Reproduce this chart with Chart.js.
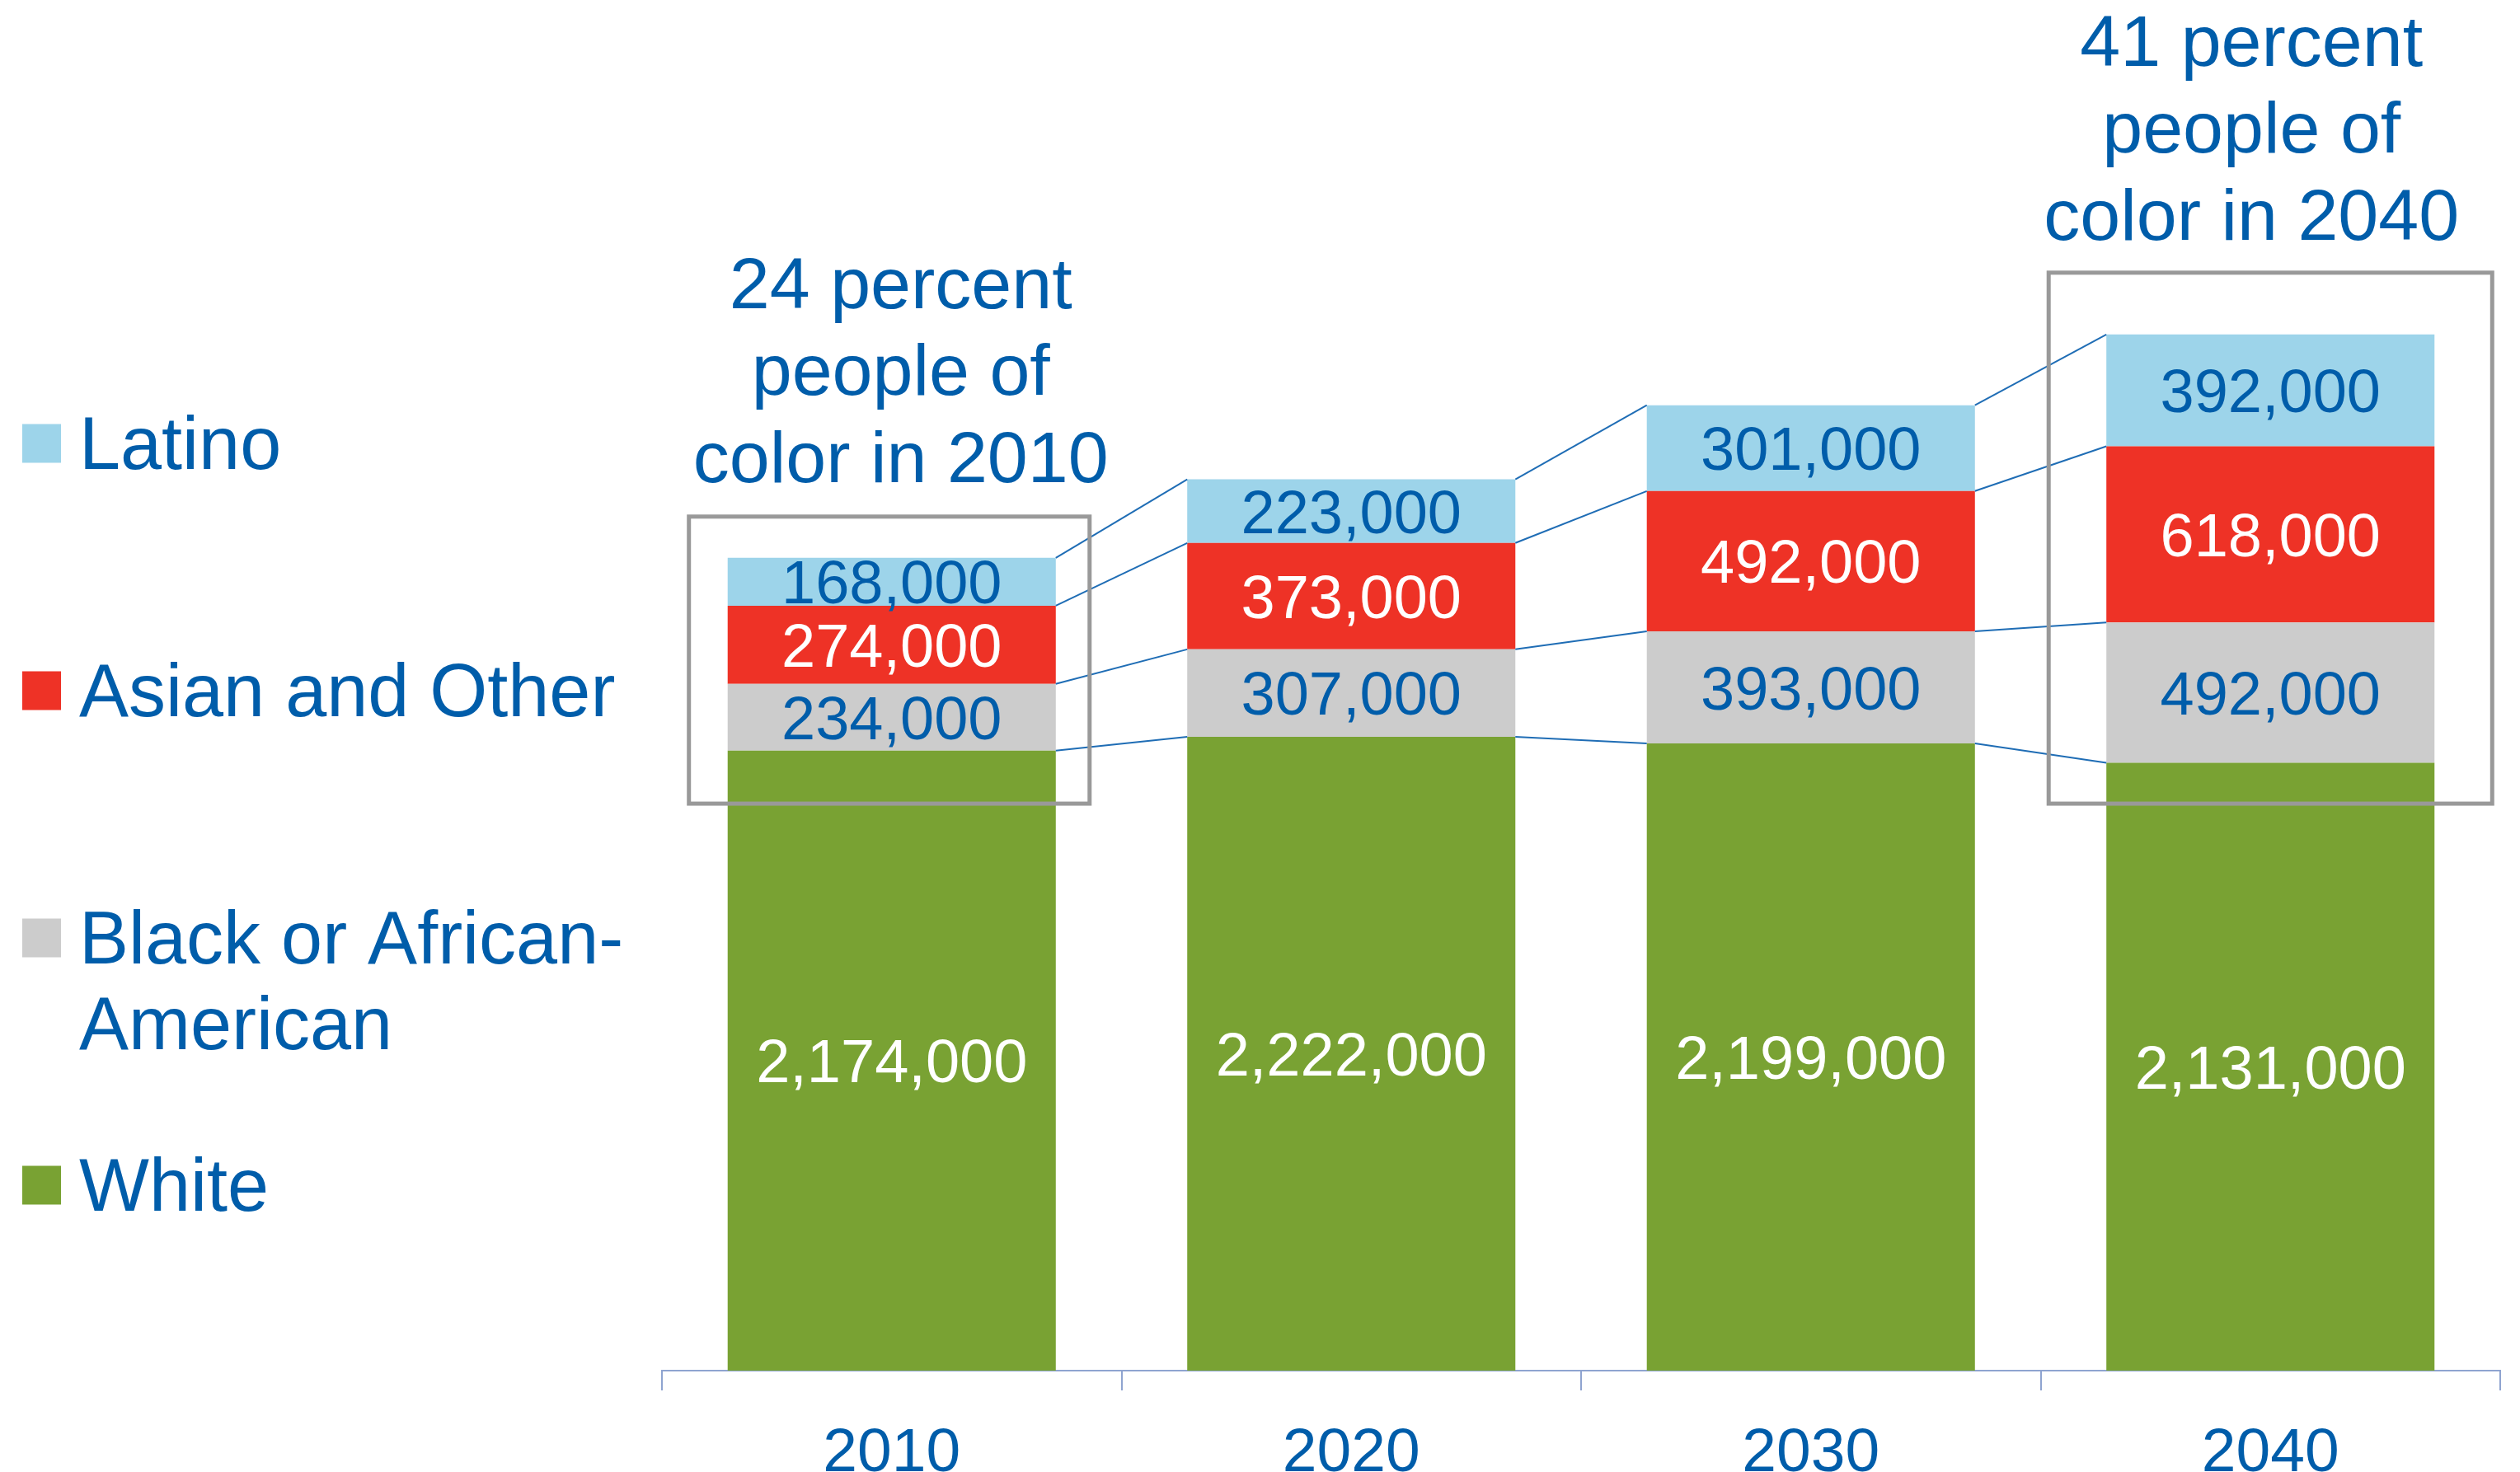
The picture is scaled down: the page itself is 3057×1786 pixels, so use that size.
<!DOCTYPE html>
<html>
<head>
<meta charset="utf-8">
<script src="https://cdn.jsdelivr.net/npm/chart.js@4/dist/chart.umd.min.js"></script>
<style>
  html, body { margin: 0; padding: 0; background: #ffffff; }
  #wrap { width: 3057px; height: 1786px; position: relative; }
  canvas { display: block; }
</style>
</head>
<body>
<div id="wrap"><canvas id="c" width="3057" height="1786"></canvas></div>
<script>
// ---------- data ----------
const categories = ['2010', '2020', '2030', '2040'];
const seriesNames = ['White', 'Black or African-American', 'Asian and Other', 'Latino'];
const whiteValues  = [2174000, 2222000, 2199000, 2131000];
const blackValues  = [234000, 307000, 393000, 492000];
const asianValues  = [274000, 373000, 492000, 618000];
const latinoValues = [168000, 223000, 301000, 392000];
const note2010Lines = ['24 percent', 'people of', 'color in 2010'];
const note2040Lines = ['41 percent', 'people of', 'color in 2040'];

// ---------- styles ----------
const FONT = '"Liberation Sans", Arial, Helvetica, sans-serif';
const BLUE = '#005DAA';
const seriesColors = ['#79A233', '#CCCCCC', '#EE3226', '#9DD4EA'];
const labelColors = ['#FFFFFF', BLUE, '#FFFFFF', BLUE];
const fmt = v => v.toLocaleString('en-US');
const LABEL_SIZE = 74;

const customDraw = {
  id: 'customDraw',
  afterDatasetsDraw(chart, args, opts) {
    const ctx = chart.ctx;
    const metas = chart.data.datasets.map((d, i) => chart.getDatasetMeta(i));
    const n = chart.data.labels.length;

    // connector lines between bars
    ctx.save();
    ctx.strokeStyle = '#1F6DB5';
    ctx.lineWidth = 2;
    for (let i = 0; i < n - 1; i++) {
      metas.forEach(m => {
        const a = m.data[i], b = m.data[i + 1];
        ctx.beginPath();
        ctx.moveTo(a.x + a.width / 2, a.y);
        ctx.lineTo(b.x - b.width / 2, b.y);
        ctx.stroke();
      });
    }
    ctx.restore();

    // value labels
    ctx.save();
    ctx.font = LABEL_SIZE + 'px ' + FONT;
    ctx.textAlign = 'center';
    ctx.textBaseline = 'alphabetic';
    metas.forEach((m, di) => {
      const ds = chart.data.datasets[di];
      m.data.forEach((el, i) => {
        const cy = (el.y + el.base) / 2;
        ctx.fillStyle = labelColors[di];
        ctx.fillText(fmt(ds.data[i]), el.x, cy + 0.358 * LABEL_SIZE);
      });
    });
    ctx.restore();

    // highlight boxes + notes
    const yScale = chart.scales.y;
    const topMeta = metas[metas.length - 1];
    opts.boxes.forEach(bx => {
      const el = topMeta.data[bx.index];
      const left = el.x - el.width / 2 - bx.padLeft;
      const right = el.x + el.width / 2 + bx.padRight;
      const top = el.y - bx.padTop;
      const bottom = yScale.getPixelForValue(bx.bottomValue);
      ctx.save();
      ctx.strokeStyle = '#999999';
      ctx.lineWidth = 5;
      ctx.strokeRect(left, top, right - left, bottom - top);
      ctx.fillStyle = BLUE;
      ctx.font = '88px ' + FONT;
      ctx.textAlign = 'center';
      ctx.textBaseline = 'alphabetic';
      const lines = bx.lines;
      lines.forEach((t, k) => {
        const baseline = top - bx.noteGap - (lines.length - 1 - k) * 105.5;
        ctx.fillText(t, el.x + bx.dx, baseline);
      });
      ctx.restore();
    });

    // legend (top to bottom: reverse stack order)
    ctx.save();
    ctx.font = '90px ' + FONT;
    ctx.textAlign = 'left';
    ctx.textBaseline = 'alphabetic';
    let baseline = opts.legend.firstBaseline;
    for (let di = chart.data.datasets.length - 1; di >= 0; di--) {
      const ds = chart.data.datasets[di];
      ctx.fillStyle = ds.backgroundColor;
      ctx.fillRect(opts.legend.boxX, baseline - 31 - 23.5, 47, 47);
      const words = ds.label;
      let lines = [words];
      if (ctx.measureText(words).width > opts.legend.maxWidth) {
        const cut = words.indexOf('-');
        lines = [words.slice(0, cut + 1), words.slice(cut + 1)];
      }
      ctx.fillStyle = BLUE;
      lines.forEach((t, k) => ctx.fillText(t, opts.legend.textX, baseline + k * 104));
      baseline += opts.legend.step;
    }
    ctx.restore();
  }
};

const datasets = [whiteValues, blackValues, asianValues, latinoValues].map((vals, i) => ({
  label: seriesNames[i],
  data: vals,
  backgroundColor: seriesColors[i],
  borderWidth: 0,
  barPercentage: 0.714,
  categoryPercentage: 1.0
}));

new Chart(document.getElementById('c'), {
  type: 'bar',
  data: { labels: categories, datasets },
  options: {
    responsive: false,
    devicePixelRatio: 1,
    animation: false,
    layout: { padding: { left: 803, right: 24, top: 2, bottom: 0 } },
    plugins: {
      legend: { display: false },
      tooltip: { enabled: false },
      customDraw: {
        boxes: [
          { index: 0, padLeft: 47, padRight: 41, padTop: 50, bottomValue: 1988000, dx: 11, noteGap: 42, lines: note2010Lines },
          { index: 3, padLeft: 70, padRight: 70, padTop: 75, bottomValue: 1988000, dx: -23, noteGap: 40, lines: note2040Lines }
        ],
        legend: { boxX: 27, textX: 96, firstBaseline: 569, step: 300, maxWidth: 700 }
      }
    },
    scales: {
      x: {
        stacked: true,
        offset: true,
        afterFit: s => { s.height = 123; },
        grid: { display: true, offset: true, drawOnChartArea: false, drawTicks: true, tickLength: 24, tickColor: '#8FA4D0', tickWidth: 2, lineWidth: 2, color: '#8FA4D0' },
        border: { display: true, color: '#8FA4D0', width: 2 },
        ticks: { color: BLUE, font: { size: 75, family: FONT }, padding: 32, maxRotation: 0 }
      },
      y: {
        stacked: true,
        display: false,
        min: 0,
        max: 4800000
      }
    }
  },
  plugins: [customDraw]
});
</script>
</body>
</html>
